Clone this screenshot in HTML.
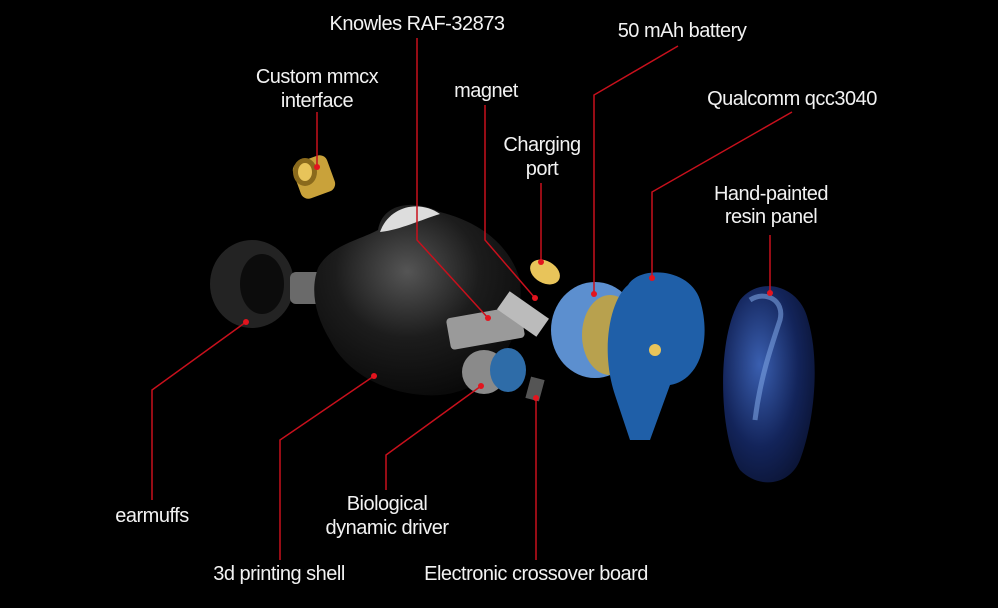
<!DOCTYPE html>
<html><head><meta charset="utf-8"><style>
html,body{margin:0;padding:0;background:#000;}
svg{display:block}
text{font-family:"Liberation Sans",sans-serif;font-size:20px;fill:#f2f2f2;text-anchor:middle;letter-spacing:-0.5px}
.l{stroke:#c8101c;stroke-width:1.5;fill:none}
.d{fill:#e3141e}
</style></head><body>
<svg width="998" height="608" viewBox="0 0 998 608" xmlns="http://www.w3.org/2000/svg">
<defs>
<radialGradient id="shell" cx="0.45" cy="0.35" r="0.7"><stop offset="0" stop-color="#555"/><stop offset="0.5" stop-color="#1c1c1c"/><stop offset="1" stop-color="#080808"/></radialGradient>
<radialGradient id="panel" cx="0.4" cy="0.4" r="0.7"><stop offset="0" stop-color="#3a5fb0"/><stop offset="0.6" stop-color="#13245a"/><stop offset="1" stop-color="#0a1230"/></radialGradient>
</defs>
<rect width="998" height="608" fill="#000"/>
<!-- earmuff -->
<ellipse cx="252" cy="284" rx="42" ry="44" fill="#232323"/>
<ellipse cx="262" cy="284" rx="22" ry="30" fill="#0c0c0c"/>
<rect x="290" y="272" width="40" height="32" rx="6" fill="#6a6a6a"/>
<!-- shell -->
<path d="M318 268 C330 245 360 240 378 230 C382 205 410 198 440 212 C480 222 510 245 520 280 C525 330 500 390 440 395 C400 398 350 380 330 340 C315 315 310 290 318 268Z" fill="url(#shell)"/>
<path d="M380 232 C390 205 420 200 440 214 C420 220 400 230 380 232Z" fill="#ddd"/>
<!-- mmcx -->
<rect x="296" y="158" width="36" height="38" rx="8" fill="#c9a23a" transform="rotate(-20 314 177)"/>
<ellipse cx="305" cy="172" rx="12" ry="14" fill="#8a6a1c"/>
<ellipse cx="305" cy="172" rx="7" ry="9" fill="#e8c45a"/>
<!-- knowles -->
<rect x="448" y="312" width="75" height="32" rx="4" fill="#9a9a9a" transform="rotate(-10 485 328)"/>
<!-- driver -->
<ellipse cx="484" cy="372" rx="22" ry="22" fill="#8a8a8a"/>
<ellipse cx="508" cy="370" rx="18" ry="22" fill="#2e6ca8"/>
<rect x="528" y="378" width="14" height="22" fill="#555" transform="rotate(15 535 389)"/>
<!-- magnet / port -->
<rect x="512" y="290" width="22" height="48" fill="#bbb" transform="rotate(-55 523 314)"/>
<ellipse cx="545" cy="272" rx="16" ry="11" fill="#e8c45a" transform="rotate(30 545 272)"/>
<!-- battery -->
<ellipse cx="595" cy="330" rx="44" ry="48" fill="#5c8fcf"/>
<ellipse cx="610" cy="335" rx="28" ry="40" fill="#b8a14e"/>
<!-- board -->
<path d="M628 285 C640 265 690 268 700 300 C712 340 700 380 670 385 L650 440 L630 440 L615 395 C600 350 610 300 628 285Z" fill="#1f5fa8"/>
<circle cx="655" cy="350" r="6" fill="#e8c45a"/>
<!-- panel -->
<path d="M740 300 C760 275 800 285 808 320 C820 360 815 420 800 460 C790 485 760 490 740 470 C720 440 715 340 740 300Z" fill="url(#panel)"/>
<path d="M750 300 C765 290 785 300 780 320 C770 350 760 380 755 420" stroke="#7aa0e0" stroke-width="5" fill="none" opacity="0.6"/>

<!-- lines -->
<polyline class="l" points="317,112 317,167"/>
<polyline class="l" points="417,38 417,240 488,318"/>
<polyline class="l" points="485,105 485,240 535,298"/>
<polyline class="l" points="541,183 541,262"/>
<polyline class="l" points="678,46 594,95 594,294"/>
<polyline class="l" points="792,112 652,192 652,278"/>
<polyline class="l" points="770,235 770,293"/>
<polyline class="l" points="246,322 152,390 152,500"/>
<polyline class="l" points="374,376 280,440 280,560"/>
<polyline class="l" points="481,386 386,455 386,490"/>
<polyline class="l" points="536,398 536,560"/>
<g class="d">
<circle cx="317" cy="167" r="3"/><circle cx="488" cy="318" r="3"/><circle cx="535" cy="298" r="3"/>
<circle cx="541" cy="262" r="3"/><circle cx="594" cy="294" r="3"/><circle cx="652" cy="278" r="3"/>
<circle cx="770" cy="293" r="3"/><circle cx="246" cy="322" r="3"/><circle cx="374" cy="376" r="3"/>
<circle cx="481" cy="386" r="3"/><circle cx="536" cy="398" r="3"/>
</g>

<!-- labels -->
<text x="417" y="30">Knowles RAF-32873</text>
<text x="682" y="37">50 mAh battery</text>
<text x="317" y="83">Custom mmcx</text>
<text x="317" y="107">interface</text>
<text x="486" y="97">magnet</text>
<text x="792" y="105">Qualcomm qcc3040</text>
<text x="542" y="151">Charging</text>
<text x="542" y="175">port</text>
<text x="771" y="200">Hand-painted</text>
<text x="771" y="223">resin panel</text>
<text x="152" y="522">earmuffs</text>
<text x="387" y="510">Biological</text>
<text x="387" y="534">dynamic driver</text>
<text x="279" y="580">3d printing shell</text>
<text x="536" y="580">Electronic crossover board</text>
</svg>
</body></html>
